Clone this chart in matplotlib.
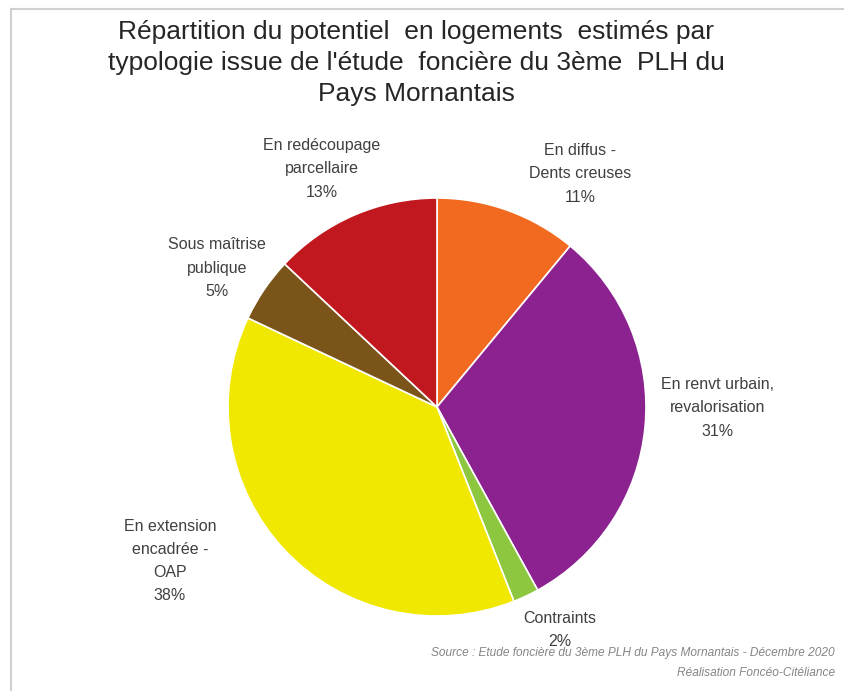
import matplotlib.pyplot as plt
from matplotlib.lines import Line2D

titre = "Répartition du potentiel  en logements  estimés par\ntypologie issue de l'étude  foncière du 3ème  PLH du\nPays Mornantais"
categories = ["En diffus -\nDents creuses", "En renvt urbain,\nrevalorisation", "Contraints",
              "En extension\nencadrée -\nOAP", "Sous maîtrise\npublique", "En redécoupage\nparcellaire"]
valeurs = [11, 31, 2, 38, 5, 13]
couleurs = ["#F26A1F", "#8C2290", "#8DC63F", "#F0E800", "#7A5418", "#C0181E"]
source = "Source : Etude foncière du 3ème PLH du Pays Mornantais - Décembre 2020\nRéalisation Foncéo-Citéliance"

# centre des etiquettes en pixels (x, y depuis le haut)
pos_etiq = [(580, 174), (718, 408), (560, 630), (170, 561), (217, 268), (322, 169)]

W, H = 845, 691
plt.rcParams['font.family'] = ['Liberation Sans', 'DejaVu Sans']
fig = plt.figure(figsize=(W / 100, H / 100), dpi=100)

cx, cy, r = 437, 407, 209
ax = fig.add_axes([(cx - r) / W, (H - cy - r) / H, 2 * r / W, 2 * r / H])
ax.pie(valeurs, colors=couleurs, startangle=90, counterclock=False,
       wedgeprops=dict(edgecolor="white", linewidth=1.2), radius=1)
ax.set_xlim(-1, 1)
ax.set_ylim(-1, 1)
ax.set_aspect("auto")
ax.axis("off")

total = sum(valeurs)
for cat, v, (px, py) in zip(categories, valeurs, pos_etiq):
    pct = round(v / total * 100)
    fig.text(px / W, 1 - py / H, cat + "\n" + str(pct) + "%", ha="center", va="center",
             fontsize=11.5, color="#404040", linespacing=1.68)

fig.text(416 / W, 1 - 63 / H, titre, ha="center", va="center", fontsize=19,
         color="#262626", linespacing=1.38)

fig.text(835 / W, 1 - 663 / H, source, ha="right", va="center", fontsize=8.6,
         style="italic", color="#858585", linespacing=1.8)

# cadre gris clair
fig.add_artist(Line2D([11 / W, 11 / W], [0, 1 - 9 / H], transform=fig.transFigure, color="#d0d0d0", lw=1.5))
fig.add_artist(Line2D([11 / W, 1], [1 - 9 / H, 1 - 9 / H], transform=fig.transFigure, color="#d0d0d0", lw=1.5))

fig.savefig("out.png", dpi=100)
